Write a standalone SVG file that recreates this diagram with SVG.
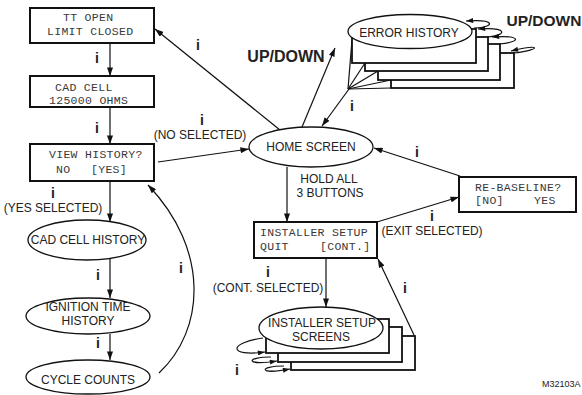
<svg xmlns="http://www.w3.org/2000/svg" width="582" height="395" viewBox="0 0 582 395">
<defs>
<marker id="ah" viewBox="0 0 10 7" refX="10" refY="3.5" markerWidth="9" markerHeight="6" markerUnits="userSpaceOnUse" orient="auto"><path d="M0,0 L10,3.5 L0,7 z" fill="#111"/></marker>
<marker id="ahs" viewBox="0 0 10 7" refX="10" refY="3.5" markerWidth="8" markerHeight="5" markerUnits="userSpaceOnUse" orient="auto"><path d="M0,0 L10,3.5 L0,7 z" fill="#111"/></marker>
</defs>
<style>
.box{fill:#fff;stroke:#111;stroke-width:2}
.card{fill:#fff;stroke:#111;stroke-width:1.8}
.ell{fill:#fff;stroke:#111;stroke-width:1.3}
.ln{fill:none;stroke:#111;stroke-width:1.2}
.lcd{font-family:"Liberation Mono",monospace;font-size:11.5px;letter-spacing:0.3px;fill:#3a3a3a}
.t{font-family:"Liberation Sans",Arial,sans-serif;font-size:12px;fill:#222;text-anchor:middle}
.i{font-family:"Liberation Sans",Arial,sans-serif;font-size:14px;font-weight:bold;fill:#222;text-anchor:middle}
.b{font-family:"Liberation Sans",Arial,sans-serif;font-weight:bold;fill:#222;text-anchor:middle}
</style>
<rect width="582" height="395" fill="#fff"/>

<g id="connectors">
<line class="ln" x1="110" y1="43" x2="110" y2="76" marker-end="url(#ah)"/>
<line class="ln" x1="110" y1="107" x2="110" y2="144" marker-end="url(#ah)"/>
<line class="ln" x1="110" y1="181" x2="110" y2="222" marker-end="url(#ah)"/>
<line class="ln" x1="110" y1="259" x2="110" y2="298" marker-end="url(#ah)"/>
<line class="ln" x1="110" y1="334" x2="110" y2="360" marker-end="url(#ah)"/>
<path class="ln" d="M159,373 C205,330 210,250 148,185" marker-end="url(#ah)"/>
<line class="ln" x1="158" y1="162" x2="249" y2="149" marker-end="url(#ah)"/>
<line class="ln" x1="280" y1="130" x2="155" y2="29" marker-end="url(#ah)"/>
<line class="ln" x1="302" y1="127" x2="335" y2="48" marker-end="url(#ah)"/>
<line class="ln" x1="349" y1="89" x2="322" y2="126" marker-end="url(#ah)"/>
<line class="ln" x1="287" y1="167" x2="287" y2="222" marker-end="url(#ah)"/>
<line class="ln" x1="460" y1="176" x2="374" y2="148" marker-end="url(#ah)"/>
<line class="ln" x1="377" y1="222" x2="459" y2="197" marker-end="url(#ah)"/>
<line class="ln" x1="326" y1="258" x2="326" y2="307" marker-end="url(#ah)"/>
<line class="ln" x1="414" y1="335" x2="378" y2="259" marker-end="url(#ah)"/>

<text class="i" x="97" y="63">i</text>
<text class="i" x="97" y="133">i</text>
<text class="i" x="53" y="198">i</text>
<text class="t" x="53" y="212">(YES SELECTED)</text>
<text class="i" x="98" y="280">i</text>
<text class="i" x="98" y="348">i</text>
<text class="i" x="181" y="273">i</text>
<text class="i" x="198" y="50">i</text>
<text class="i" x="202" y="125">i</text>
<text class="t" x="200" y="139">(NO SELECTED)</text>
<text class="b" x="286" y="62" font-size="16">UP/DOWN</text>
<text class="i" x="352" y="111">i</text>
<text class="t" x="329" y="183">HOLD ALL</text>
<text class="t" x="330" y="197">3 BUTTONS</text>
<text class="i" x="417" y="157">i</text>
<text class="i" x="432" y="221">i</text>
<text class="t" x="432" y="235">(EXIT SELECTED)</text>
<text class="i" x="268" y="277">i</text>
<text class="t" x="268" y="292">(CONT. SELECTED)</text>
<text class="i" x="405" y="293">i</text>
<text class="i" x="237" y="375">i</text>
</g>

<g id="tt-open">
<rect class="box" x="30" y="8" width="124" height="35"/>
<text class="lcd" x="63" y="21">TT OPEN</text>
<text class="lcd" x="47" y="35">LIMIT CLOSED</text>
</g>

<g id="cad-cell">
<rect class="box" x="30" y="76" width="124" height="31"/>
<text class="lcd" x="55" y="91">CAD CELL</text>
<text class="lcd" x="49" y="104">125000 OHMS</text>
</g>

<g id="view-history">
<rect class="box" x="30" y="144" width="124" height="37"/>
<text class="lcd" x="49" y="158">VIEW HISTORY?</text>
<text class="lcd" x="56" y="173">NO</text>
<text class="lcd" x="91" y="173">[YES]</text>
</g>

<g id="cad-cell-history">
<ellipse class="ell" cx="87" cy="240" rx="59" ry="20"/>
<text class="t" x="88" y="244">CAD CELL HISTORY</text>
</g>

<g id="ignition-time-history">
<ellipse class="ell" cx="88" cy="316" rx="62" ry="18"/>
<text class="t" x="88" y="311">IGNITION TIME</text>
<text class="t" x="88" y="325">HISTORY</text>
</g>

<g id="cycle-counts">
<ellipse class="ell" cx="88" cy="377" rx="62" ry="17"/>
<text class="t" x="88" y="384">CYCLE COUNTS</text>
</g>

<g id="home-screen">
<ellipse class="ell" cx="311" cy="147" rx="62" ry="20"/>
<text class="t" x="311" y="151">HOME SCREEN</text>
</g>

<g id="error-history">
<line class="ln" x1="348" y1="89" x2="352" y2="40"/>
<line class="ln" x1="348" y1="89" x2="365" y2="63"/>
<line class="ln" x1="348" y1="89" x2="378" y2="71"/>
<line class="ln" x1="348" y1="89" x2="391" y2="80"/>
<line class="ln" x1="348" y1="89" x2="391" y2="88"/>
<rect class="card" x="391" y="53" width="123" height="35"/>
<rect class="card" x="378" y="44" width="122" height="36"/>
<rect class="card" x="365" y="37" width="123" height="34"/>
<rect class="card" x="352" y="29" width="124" height="34"/>
<ellipse class="ell" cx="410" cy="31.5" rx="62" ry="17"/>
<text class="t" x="409" y="37">ERROR HISTORY</text>
<path class="ln" d="M474,28 C496,27 496,19 466,21" marker-end="url(#ahs)"/>
<path class="ln" d="M487,37 C508,35 508,27 478,29" marker-end="url(#ahs)"/>
<path class="ln" d="M499,44 C522,42 522,35 492,37" marker-end="url(#ahs)"/>
<path class="ln" d="M513,53 C542,50 542,43 511,51" marker-end="url(#ahs)"/>
<text class="b" x="544" y="26" font-size="15.5">UP/DOWN</text>
</g>

<g id="installer-setup">
<rect class="box" x="254" y="222" width="123" height="36"/>
<text class="lcd" x="260" y="236">INSTALLER SETUP</text>
<text class="lcd" x="260" y="250">QUIT</text>
<text class="lcd" x="320" y="250">[CONT.]</text>
</g>

<g id="re-baseline">
<rect class="box" x="459" y="177" width="117" height="35"/>
<text class="lcd" x="475" y="191">RE-BASELINE?</text>
<text class="lcd" x="475" y="204">[NO]</text>
<text class="lcd" x="534" y="204">YES</text>
</g>

<g id="installer-setup-screens">
<rect class="card" x="291" y="336" width="124" height="34"/>
<rect class="card" x="278" y="327" width="124" height="35"/>
<rect class="card" x="266" y="319" width="123" height="34"/>
<ellipse class="ell" cx="321" cy="328" rx="62" ry="21"/>
<text class="t" x="322" y="327">INSTALLER SETUP</text>
<text class="t" x="321" y="341">SCREENS</text>
<path class="ln" d="M263,338 C228,343 228,357 265,352" marker-end="url(#ahs)"/>
<path class="ln" d="M271,357 C245,357 245,366 277,361" marker-end="url(#ahs)"/>
<path class="ln" d="M284,366 C258,366 258,375 290,369" marker-end="url(#ahs)"/>
</g>

<text x="542" y="387" font-family="Liberation Sans, Arial, sans-serif" font-size="9" fill="#222">M32103A</text>
</svg>
